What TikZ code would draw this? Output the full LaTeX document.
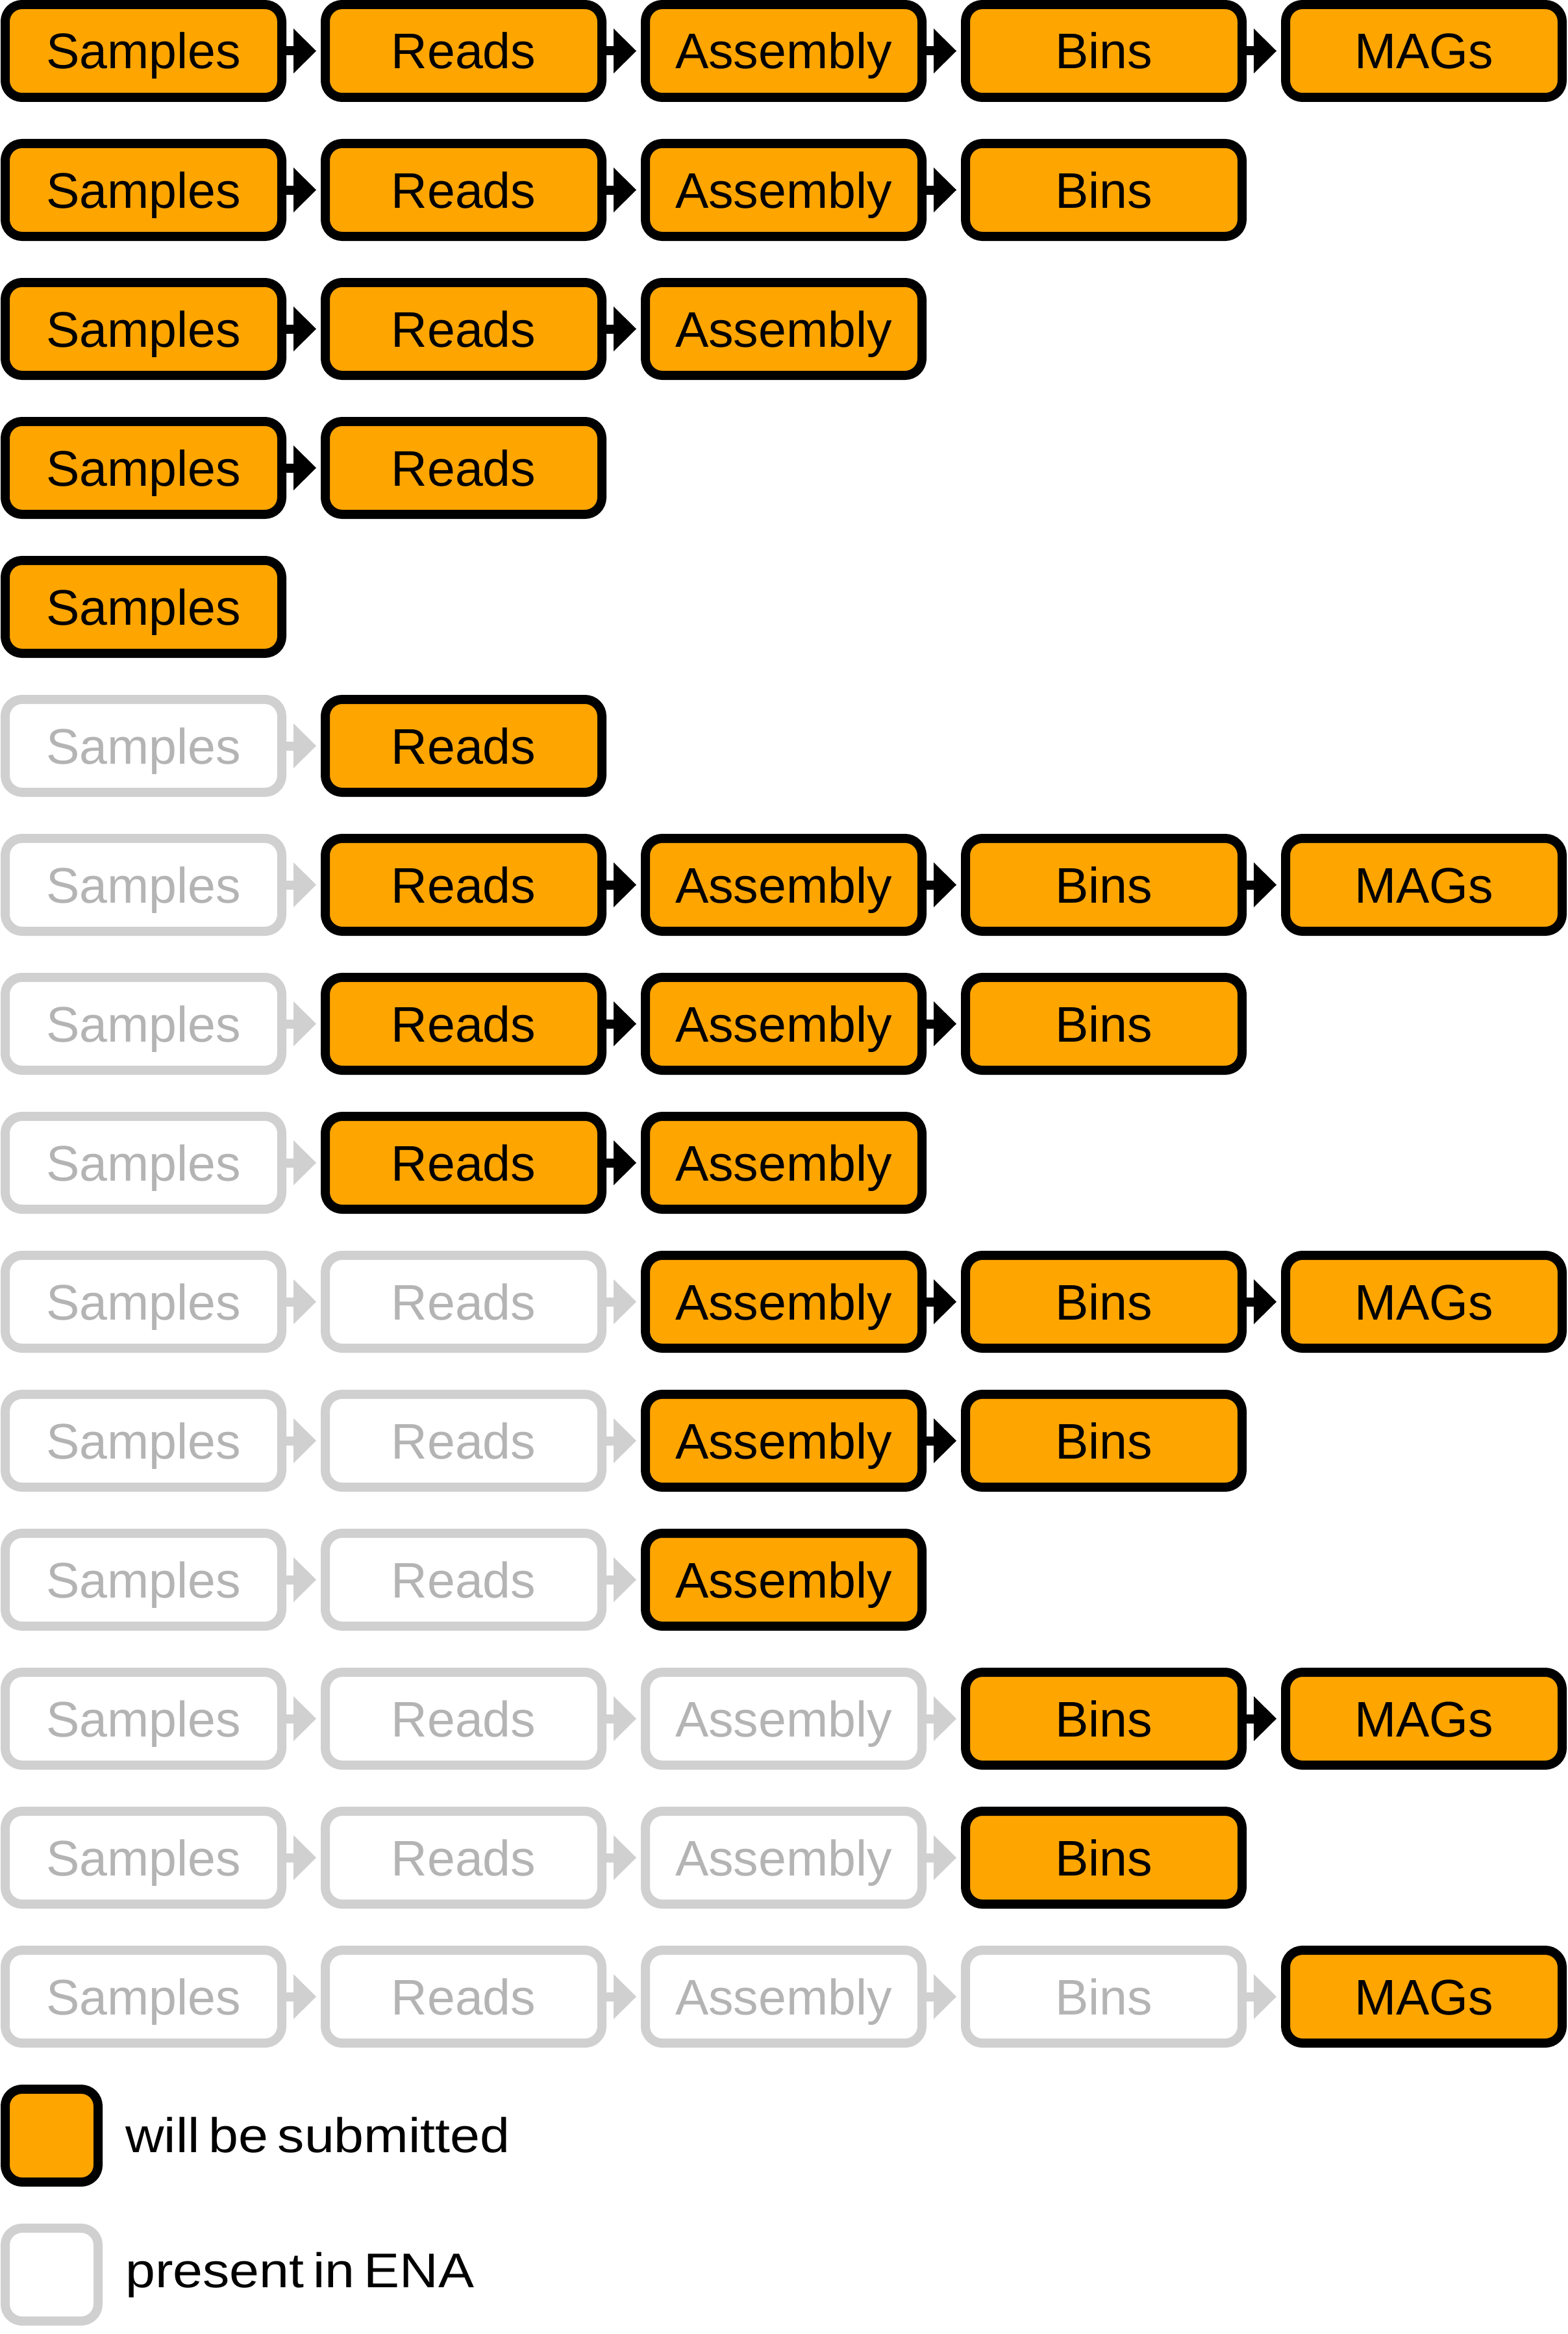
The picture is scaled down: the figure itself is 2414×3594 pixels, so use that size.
\documentclass[tikz,border=0pt]{standalone}
\usepackage{fontspec}
\setmainfont{Liberation Sans}
\newfontfamily\legendfont[FakeStretch=1.10,WordSpace=0.62]{Liberation Sans}
\usetikzlibrary{calc}
\definecolor{subm}{HTML}{FFA500}
\definecolor{gline}{HTML}{D0D0D0}
\definecolor{gtext}{HTML}{B4B4B4}
\tikzset{
  stage/.style={rounded corners=26pt, line width=14pt, minimum width=426pt,
    minimum height=143pt, inner sep=0pt, text height=55pt, text depth=0pt,
    font=\fontsize{77}{90}\selectfont},
  newbox/.style={stage, draw=black, fill=subm, text=black},
  oldbox/.style={stage, draw=gline, fill=white, text=gtext},
  legtext/.style={anchor=base west, inner sep=0pt, text=black,
    font={\fontsize{75}{90}\legendfont}},
}
\newcommand\stagename[1]{\ifcase#1\or Samples\or Reads\or Assembly\or Bins\or MAGs\fi}
\newcommand\linkit[3]{%
  \draw[#3, line width=14pt] (#1.east) -- ($(#2.west)+(-41pt,0)$);
  \fill[#3] ($(#2.west)+(-7pt,0)$) -- ++(-35pt,34.5pt) -- ++(0,-69pt) -- cycle;
}
\begin{document}
\begin{tikzpicture}[x=1pt,y=1pt]
\fill[white] (0,-3594) rectangle (2414,0);
\useasboundingbox (0,-3594) rectangle (2414,0);
\foreach \r/\g/\e in {1/0/5,2/0/4,3/0/3,4/0/2,5/0/1,6/1/2,7/1/5,8/1/4,9/1/3,10/2/5,11/2/4,12/2/3,13/3/5,14/3/4,15/4/5}{
  \foreach \c in {1,...,\e}{
    \pgfmathsetmacro\xx{221+493*(\c-1)}
    \pgfmathsetmacro\yy{-(78.5+214*(\r-1))}
    \ifnum\c>\g\relax\tikzset{cur/.style={newbox}}\else\tikzset{cur/.style={oldbox}}\fi
    \node[cur] (n-\r-\c) at (\xx,\yy) {\stagename{\c}};
    \ifnum\c>1\relax
      \pgfmathtruncatemacro\p{\c-1}
      \ifnum\p>\g\relax
        \linkit{n-\r-\p}{n-\r-\c}{black}
      \else
        \linkit{n-\r-\p}{n-\r-\c}{gline}
      \fi
    \fi
  }
}
\node[newbox, minimum width=143pt] (leg1) at (79.5,-3288.5) {};
\node[oldbox, minimum width=143pt] (leg2) at (79.5,-3502.5) {};
\node[legtext] (legt1) at (193,-3314) {will be submitted};
\node[legtext] (legt2) at (193,-3522) {present in ENA};
\end{tikzpicture}
\end{document}
